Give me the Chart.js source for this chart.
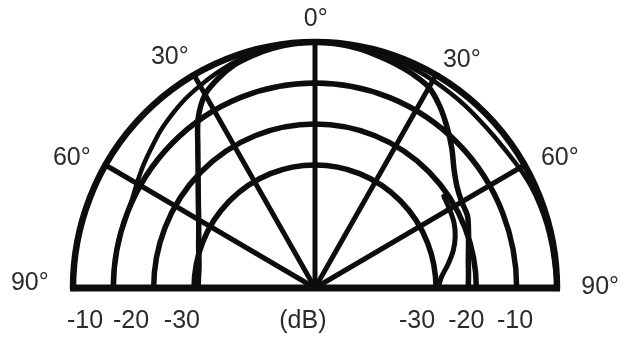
<!DOCTYPE html>
<html>
<head>
<meta charset="utf-8">
<script src="https://cdn.jsdelivr.net/npm/chart.js@4/dist/chart.umd.min.js"></script>
<style>
  html, body { margin: 0; padding: 0; background: #fff; }
  #wrap { width: 624px; height: 340px; }
</style>
</head>
<body>
<div id="wrap"><canvas id="polar" width="624" height="340"></canvas></div>
<script>
// Directivity (polar response), angles in degrees from the axis, levels in dB
const ANGLES = [-90,-85,-80,-75,-70,-65,-60,-55,-50,-45,-40,-35,-30,-25,-20,-15,-10,-5,0,
                5,10,15,20,25,30,35,40,45,50,55,60,65,70,75,80,85,90];
const MAIN_DB = [-31,-31,-30.8,-30.2,-29.3,-28.2,-26.7,-24.7,-22.2,-19,-14.8,-9.5,-5.5,-3.5,-2,-1.2,-0.6,-0.2,0,
                 -0.2,-0.6,-1.2,-1.8,-2.5,-3.5,-6,-9,-12,-15,-17,-18,-18.3,-19.5,-20.6,-21.4,-21.8,-22];
const SECOND_DB = [-10,-10,-10,-10,-10,-9.8,-9,-8,-7,-5.8,-4.8,-3.8,-3,-2.2,-1.4,-0.8,-0.3,0,0,
                   0,-0.2,-0.5,-0.8,-1.2,-1.5,-1.8,-2,-2.2,-2.2,-2,-1.5,-1,-0.7,-0.5,-0.4,-0.3,0];
const LOOP_ANGLES = [55,60,65,70,75,80,85,90];
const LOOP_DB = [-21,-21.5,-22,-23,-24.5,-26.5,-28.5,-29.5];

// Grid
const RING_DB = [0,-10,-20,-30];
const SPOKE_ANGLES = [-60,-30,0,30,60];
const FLOOR_DB = -60;

// Text
const ANGLE_LABELS = ["90\u00b0","60\u00b0","30\u00b0","0\u00b0","30\u00b0","60\u00b0","90\u00b0"];
const LEVEL_LABELS = ["-10","-20","-30","(dB)","-30","-20","-10"];

// Where the text sits, in plot units (x across, y up from the baseline)
const ANGLE_LABEL_AT = [[-70.7,1.2],[-60.3,31.7],[-36,56.3],[0.2,65.6],[36.4,55.6],[60.7,31.7],[70.7,0.2]];
const LEVEL_LABEL_AT = [-57,-45.6,-33,-3,25.3,37.5,49.6];
const LEVEL_LABEL_DROP = 33; // px below the baseline

const INK = '#0d0d0d';
const TEXT_INK = '#2b2b2b';
const FONT = '25px "Liberation Sans", Arial, sans-serif';

function toXY(angles, levels) {
  return angles.map((a, i) => {
    const r = levels[i] - FLOOR_DB;
    const t = a * Math.PI / 180;
    return { x: r * Math.sin(t), y: r * Math.cos(t) };
  });
}

const polarGrid = {
  id: 'polarGrid',
  beforeDatasetsDraw(chart) {
    const { ctx, scales: { x, y } } = chart;
    const cx = x.getPixelForValue(0), cy = y.getPixelForValue(0);
    ctx.save();
    ctx.strokeStyle = INK;
    ctx.lineCap = 'round';
    ctx.lineJoin = 'round';
    RING_DB.forEach((db, i) => {
      const r = db - FLOOR_DB;
      const rx = x.getPixelForValue(r) - cx;
      const ry = cy - y.getPixelForValue(r);
      ctx.lineWidth = i === 0 ? 6.5 : 5.5;
      ctx.beginPath();
      ctx.ellipse(cx, cy, rx, ry, 0, Math.PI, 2 * Math.PI);
      ctx.stroke();
    });
    const R = RING_DB[0] - FLOOR_DB;
    ctx.lineWidth = 5;
    SPOKE_ANGLES.forEach(a => {
      const t = a * Math.PI / 180;
      ctx.beginPath();
      ctx.moveTo(cx, cy);
      ctx.lineTo(x.getPixelForValue(R * Math.sin(t)), y.getPixelForValue(R * Math.cos(t)));
      ctx.stroke();
    });
    ctx.lineWidth = 7;
    ctx.lineCap = 'butt';
    ctx.beginPath();
    ctx.moveTo(x.getPixelForValue(-R) - 3, cy);
    ctx.lineTo(x.getPixelForValue(R) + 3, cy);
    ctx.stroke();
    ctx.restore();
  },
  afterDatasetsDraw(chart) {
    const { ctx, scales: { x, y } } = chart;
    const cy = y.getPixelForValue(0);
    ctx.save();
    ctx.fillStyle = TEXT_INK;
    ctx.font = FONT;
    ctx.textAlign = 'center';
    ctx.textBaseline = 'middle';
    ANGLE_LABELS.forEach((t, i) => {
      const [ux, uy] = ANGLE_LABEL_AT[i];
      ctx.fillText(t, x.getPixelForValue(ux), y.getPixelForValue(uy));
    });
    LEVEL_LABELS.forEach((t, i) => {
      ctx.fillText(t, x.getPixelForValue(LEVEL_LABEL_AT[i]), cy + LEVEL_LABEL_DROP);
    });
    ctx.restore();
  }
};

const lineStyle = {
  showLine: true,
  pointRadius: 0,
  borderColor: INK,
  backgroundColor: INK,
  borderWidth: 5.5,
  tension: 0.3,
  clip: false,
  borderCapStyle: 'round',
  borderJoinStyle: 'round'
};

new Chart(document.getElementById('polar'), {
  type: 'scatter',
  data: {
    datasets: [
      Object.assign({ label: 'main', data: toXY(ANGLES, MAIN_DB) }, lineStyle),
      Object.assign({ label: 'second', data: toXY(ANGLES, SECOND_DB) }, lineStyle, { borderWidth: 4.5 }),
      Object.assign({ label: 'loop', data: toXY(LOOP_ANGLES, LOOP_DB) }, lineStyle, { borderWidth: 5 })
    ]
  },
  options: {
    responsive: false,
    animation: false,
    layout: { padding: { left: 73, right: 67, top: 42, bottom: 52 } },
    scales: {
      x: { type: 'linear', min: -60, max: 60, display: false },
      y: { type: 'linear', min: 0, max: 60, display: false }
    },
    plugins: { legend: { display: false }, tooltip: { enabled: false } }
  },
  plugins: [polarGrid]
});
</script>
</body>
</html>
